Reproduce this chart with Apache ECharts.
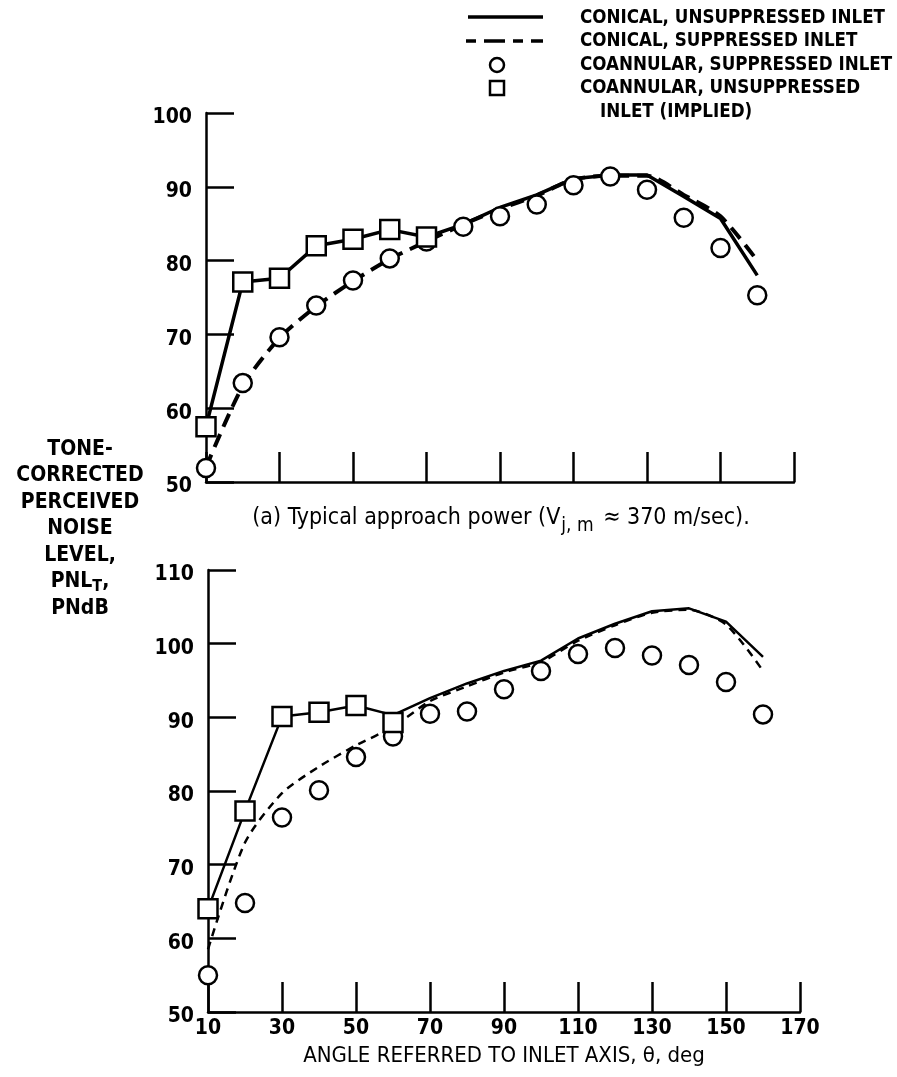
<!DOCTYPE html>
<html>
<head>
<meta charset="utf-8">
<script src="https://cdn.jsdelivr.net/npm/echarts@6/dist/echarts.min.js"></script>
<style>
  html, body { margin: 0; padding: 0; background: #fff; }
  #chart { width: 897px; height: 1077px; }
</style>
</head>
<body>
<div id="chart"></div>
<script>
// angle referred to inlet axis, deg
var angles = [10, 20, 30, 40, 50, 60, 70, 80, 90, 100, 110, 120, 130, 140, 150, 160];

// (a) approach power
var topConicalUnsup = [57.5, 77.1, 77.6, 82.0, 82.9, 84.2, 83.2, 84.9, 87.2, 88.9, 91.1, 91.6, 91.6, 88.7, 85.7, 78.0];
var topConicalSup = [52.0, 63.0, 69.5, 73.8, 77.2, 80.2, 82.6, 84.9, 87.0, 88.8, 91.0, 91.5, 91.5, 88.9, 86.0, 80.0];
var topCoannSup = [51.9, 63.4, 69.6, 73.9, 77.3, 80.3, 82.6, 84.6, 86.0, 87.6, 90.2, 91.4, 89.6, 85.8, 81.7, 75.3];
var topCoannUnsup = [57.5, 77.1, 77.6, 82.0, 82.9, 84.2, 83.2];

// lower panel
var botConicalUnsup = [64.0, 77.3, 90.1, 90.7, 91.6, 90.3, 92.6, 94.6, 96.3, 97.7, 100.7, 102.7, 104.4, 104.8, 103.0, 98.2];
var botConicalSup = [58.5, 73.0, 79.7, 83.3, 86.2, 88.7, 92.2, 94.2, 96.1, 97.5, 100.4, 102.5, 104.2, 104.6, 102.6, 96.3];
var botCoannSup = [55.0, 64.8, 76.4, 80.1, 84.6, 87.4, 90.5, 90.8, 93.8, 96.3, 98.6, 99.4, 98.4, 97.1, 94.8, 90.4];
var botCoannUnsup = [64.0, 77.3, 90.1, 90.7, 91.6, 89.3];

var names = [
  "CONICAL, UNSUPPRESSED INLET",
  "CONICAL, SUPPRESSED INLET",
  "COANNULAR, SUPPRESSED INLET",
  "COANNULAR, UNSUPPRESSED"
];
var nameCont = "INLET (IMPLIED)";

var FONT = "'DejaVu Sans Condensed', 'Liberation Sans Narrow', sans-serif";

function pairs(ys) {
  return ys.map(function (v, i) { return [angles[i], v]; });
}

function xAxisFor(idx, showLabels) {
  return {
    type: "value",
    gridIndex: idx,
    min: 10,
    max: 170,
    interval: 20,
    splitLine: { show: false },
    axisLine: { lineStyle: { color: "#000", width: 2.5 } },
    axisTick: { inside: true, length: 30, lineStyle: { color: "#000", width: 2.5 } },
    axisLabel: {
      show: showLabels,
      color: "#000",
      fontFamily: FONT,
      fontWeight: "bold",
      fontSize: 21,
      margin: 6
    },
    name: showLabels ? "ANGLE REFERRED TO INLET AXIS, \u03b8, deg" : "",
    nameLocation: "middle",
    nameGap: 33,
    nameTextStyle: { color: "#000", fontFamily: FONT, fontSize: 22 }
  };
}

function yAxisFor(idx, min, max) {
  return {
    type: "value",
    gridIndex: idx,
    min: min,
    max: max,
    interval: 10,
    splitLine: { show: false },
    axisLine: { lineStyle: { color: "#000", width: 2.5 } },
    axisTick: { inside: true, length: 28, lineStyle: { color: "#000", width: 2.5 } },
    axisLabel: {
      color: "#000",
      fontFamily: FONT,
      fontWeight: "bold",
      fontSize: 21,
      margin: 14,
      verticalAlign: "top",
      lineHeight: 10
    }
  };
}

function lineSeries(name, idx, ys, dashed, width, dash) {
  return {
    name: name,
    type: "line",
    xAxisIndex: idx,
    yAxisIndex: idx,
    data: pairs(ys),
    showSymbol: false,
    symbol: "none",
    smooth: dashed ? 0.25 : false,
    z: 2,
    lineStyle: { color: "#000", width: width, type: dashed ? dash : "solid" },
    itemStyle: { color: "#000" }
  };
}

function markSeries(name, idx, ys, symbol, size) {
  return {
    name: name,
    type: "scatter",
    xAxisIndex: idx,
    yAxisIndex: idx,
    data: pairs(ys),
    symbol: symbol,
    symbolSize: size,
    z: 5,
    itemStyle: { color: "#fff", borderColor: "#000", borderWidth: 2.5, opacity: 1 }
  };
}

function legendText(txt, x, y) {
  return {
    type: "text",
    x: x,
    y: y,
    scaleX: 0.93,
    style: {
      text: txt,
      fill: "#000",
      font: "bold 20px " + FONT,
      verticalAlign: "middle"
    }
  };
}

var chart = echarts.init(document.getElementById("chart"), null, { renderer: "canvas" });

chart.setOption({
  backgroundColor: "#fff",
  animation: false,
  title: [
    {
      text: "{t|TONE-}\n{t|CORRECTED}\n{t|PERCEIVED}\n{t|NOISE}\n{t|LEVEL,}\n{t|PNL}{s|T}{t|,}\n{t|PNdB}",
      left: 75,
      top: 431,
      textAlign: "center",
      textStyle: {
        rich: {
          t: { fontFamily: FONT, fontWeight: "bold", fontSize: 21, color: "#000", lineHeight: 26.5 },
          s: { fontFamily: FONT, fontWeight: "bold", fontSize: 16, color: "#000", lineHeight: 26.5, padding: [10, 0, 0, 0] }
        }
      }
    },
    {
      text: "{n|(a) Typical approach power (V}{s|j, m}{n| \u2248 370 m/sec).}",
      left: 496,
      top: 500,
      textAlign: "center",
      textStyle: {
        rich: {
          n: { fontFamily: FONT, fontWeight: "normal", fontSize: 23, color: "#000", lineHeight: 26 },
          s: { fontFamily: FONT, fontWeight: "normal", fontSize: 19, color: "#000", lineHeight: 26, padding: [16, 3, 0, 1] }
        }
      }
    }
  ],
  graphic: [
    { type: "line", shape: { x1: 468, y1: 17, x2: 543, y2: 17 }, style: { stroke: "#000", lineWidth: 3.5 } },
    { type: "line", shape: { x1: 466, y1: 41, x2: 543, y2: 41 }, style: { stroke: "#000", lineWidth: 3.5, lineDash: [10, 8, 21, 8] } },
    { type: "circle", shape: { cx: 497, cy: 65, r: 7 }, style: { fill: "#fff", stroke: "#000", lineWidth: 2.5 } },
    { type: "rect", shape: { x: 490, y: 81, width: 14, height: 14 }, style: { fill: "#fff", stroke: "#000", lineWidth: 2.5 } },
    legendText(names[0], 580, 18),
    legendText(names[1], 580, 41),
    legendText(names[2], 580, 65),
    legendText(names[3], 580, 88),
    legendText(nameCont, 600, 112)
  ],
  grid: [
    { left: 206, top: 113, width: 588, height: 369, containLabel: false },
    { left: 208, top: 570, width: 592, height: 442, containLabel: false }
  ],
  xAxis: [xAxisFor(0, false), xAxisFor(1, true)],
  yAxis: [yAxisFor(0, 50, 100), yAxisFor(1, 50, 110)],
  series: [
    lineSeries(names[0], 0, topConicalUnsup, false, 3.5),
    lineSeries(names[1], 0, topConicalSup, true, 4, [14, 8]),
    markSeries(names[2], 0, topCoannSup, "circle", 18),
    markSeries(names[3], 0, topCoannUnsup, "rect", 19),
    lineSeries(names[0], 1, botConicalUnsup, false, 2.5),
    lineSeries(names[1], 1, botConicalSup, true, 2.5, [8, 6]),
    markSeries(names[2], 1, botCoannSup, "circle", 18),
    markSeries(names[3], 1, botCoannUnsup, "rect", 19)
  ]
});
</script>
</body>
</html>
